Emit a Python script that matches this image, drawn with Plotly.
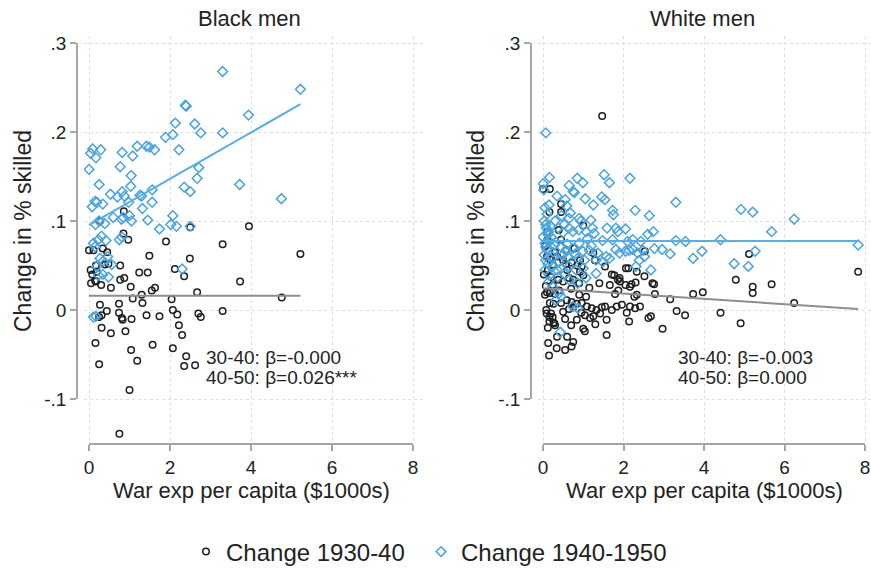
import plotly.graph_objects as go

W, H = 871, 573

# ---------------- data: Black men ----------------
black_30_40_x = [0.86, 0.27, 2.50, 3.95, 0.85, 0.97, 1.90, 3.30, 0.00, 0.11, 0.34, 1.49, 5.22, 2.49,
                 0.17, 0.40, 0.48, 0.77, 0.19, 1.24, 1.45, 2.12, 2.35, 0.15, 0.17, 0.77, 0.87, 3.73,
                 0.54, 1.03, 1.55, 1.63, 1.30, 1.08, 1.32, 2.04, 2.67, 4.76, 0.27, 0.74, 0.44, 0.31,
                 0.25, 0.74, 0.81, 0.83, 1.05, 1.42, 1.74, 2.07, 2.18, 2.70, 2.76, 3.30, 0.31, 0.54,
                 0.90, 2.22, 2.30, 0.16, 1.57, 2.07, 1.04, 2.40, 0.25, 1.19, 2.35, 2.62, 1.00, 0.75,
                 0.05, 0.04, 0.08, 0.30, 0.45]
black_30_40_y = [0.111, 0.100, 0.093, 0.094, 0.086, 0.079, 0.077, 0.074, 0.067, 0.067, 0.069, 0.061,
                 0.063, 0.058, 0.050, 0.051, 0.052, 0.050, 0.043, 0.042, 0.042, 0.046, 0.038, 0.033,
                 0.032, 0.034, 0.036, 0.032, 0.025, 0.026, 0.022, 0.025, 0.017, 0.013, 0.008, 0.012,
                 0.020, 0.014, 0.006, 0.007, -0.001, -0.006, -0.008, -0.003, -0.009, -0.011, -0.010,
                 -0.006, -0.007, 0.000, -0.005, -0.004, -0.008, -0.001, -0.020, -0.026, -0.024,
                 -0.017, -0.028, -0.037, -0.039, -0.043, -0.045, -0.052, -0.061, -0.057, -0.063,
                 -0.062, -0.090, -0.139, 0.030, 0.045, 0.040, 0.028, 0.065]

black_40_50_x = [3.30, 5.22, 2.38, 2.40, 3.94, 2.13, 2.61, 2.76, 2.07, 1.89, 3.30, 0.09, 0.29, 0.17,
                 0.82, 1.19, 1.42, 1.49, 1.62, 1.08, 2.22, 0.00, 0.77, 1.04, 2.71, 2.67, 0.25, 1.03,
                 2.35, 2.50, 3.72, 0.82, 0.87, 0.53, 0.70, 1.26, 1.30, 1.56, 4.75, 0.15, 0.19, 0.34,
                 0.98, 1.56, 1.32, 2.07, 0.60, 0.80, 0.85, 1.00, 1.45, 1.05, 0.25, 0.16, 0.39, 1.74,
                 2.02, 2.16, 2.50, 0.31, 0.23, 0.42, 0.75, 0.81, 0.11, 0.15, 0.27, 0.35, 0.46, 0.56,
                 0.23, 0.34, 0.48, 0.19, 2.30, 0.11, 0.17, 0.04, 0.08]
black_40_50_y = [0.268, 0.248, 0.230, 0.229, 0.219, 0.210, 0.209, 0.199, 0.197, 0.194, 0.199, 0.181,
                 0.180, 0.171, 0.177, 0.184, 0.184, 0.183, 0.180, 0.173, 0.180, 0.158, 0.161, 0.151,
                 0.160, 0.148, 0.141, 0.139, 0.138, 0.133, 0.141, 0.133, 0.128, 0.130, 0.127, 0.129,
                 0.128, 0.135, 0.125, 0.122, 0.121, 0.119, 0.121, 0.121, 0.114, 0.106, 0.104, 0.102,
                 0.104, 0.106, 0.101, 0.100, 0.100, 0.096, 0.097, 0.091, 0.096, 0.094, 0.094, 0.083,
                 0.079, 0.078, 0.079, 0.082, 0.075, 0.071, 0.058, 0.055, 0.060, 0.051, 0.039, 0.040,
                 0.037, 0.049, 0.046, -0.008, -0.007, 0.176, 0.116]

# ---------------- data: White men ----------------
white_30_40_x = [1.47, 0.00, 0.17, 0.45, 0.16, 0.45, 1.00, 0.45, 5.12, 2.53, 0.17, 0.24, 0.50, 0.57,
                 0.71, 0.92, 0.96, 1.25, 1.29, 1.54, 1.71, 1.86, 1.91, 2.12, 2.33, 2.52, 2.05, 2.20,
                 2.30, 2.76, 1.66, 4.79, 5.68, 5.21, 5.21, 3.73, 3.97, 3.16, 2.78, 2.27, 2.33, 1.79,
                 7.83, 6.24, 4.41, 4.91, 3.32, 3.53, 2.97, 2.62, 2.68, 2.14, 1.58, 1.04, 1.00, 0.13,
                 0.34, 0.55, 0.71, 0.75, 0.15, 0.70, 0.50, 0.65, 0.75, 0.09, 0.16, 0.26, 0.30, 0.05,
                 0.17, 0.30, 0.17, 0.26, 0.59, 0.71, 0.84, 0.96, 1.09, 1.21, 1.33, 1.46, 1.54, 1.71,
                 1.83, 1.96, 2.08, 2.16, 2.29, 2.41, 1.87, 2.16, 0.38, 0.50, 0.65, 0.75, 0.92, 1.00,
                 1.04, 1.17, 1.25, 1.42, 0.84, 1.58, 0.39, 0.57, 0.78, 0.12, 0.20, 2.06, 1.77, 1.90,
                 2.72, 0.07, 0.24, 0.90, 1.07, 0.20, 0.24, 0.16, 0.28, 0.05, 0.10, 0.02, 0.10, 0.08,
                 0.30, 0.12, 0.60, 0.10, 0.35, 0.60, 0.85, 0.40, 0.70, 1.15, 0.45, 0.95, 0.55, 1.30,
                 0.35, 0.90, 1.40, 0.10]
white_30_40_y = [0.218, 0.136, 0.136, 0.119, 0.110, 0.110, 0.095, 0.079, 0.063, 0.066, 0.057, 0.051,
                 0.056, 0.052, 0.053, 0.056, 0.049, 0.064, 0.056, 0.049, 0.040, 0.034, 0.032, 0.047,
                 0.043, 0.038, 0.028, 0.029, 0.031, 0.029, 0.028, 0.034, 0.029, 0.026, 0.019, 0.018,
                 0.020, 0.012, 0.018, 0.015, 0.017, 0.018, 0.043, 0.008, -0.003, -0.015, -0.001,
                 -0.006, -0.021, -0.009, -0.007, -0.013, -0.028, -0.024, -0.021, -0.037, -0.043,
                 -0.045, -0.041, -0.036, -0.051, -0.017, -0.002, 0.001, 0.003, -0.004, -0.008,
                 -0.014, -0.017, 0.017, 0.019, 0.018, 0.008, 0.007, 0.011, 0.009, 0.007, 0.008,
                 0.004, 0.002, 0.000, 0.003, 0.004, 0.000, 0.004, 0.006, -0.003, 0.004, 0.002, 0.004,
                 0.022, 0.026, 0.034, 0.032, 0.036, 0.034, 0.043, 0.039, -0.006, -0.009, -0.007,
                 -0.004, -0.011, -0.011, 0.090, 0.067, 0.069, 0.045, 0.037, 0.047, 0.039, 0.036,
                 0.030, 0.027, 0.028, 0.017, 0.015, -0.004, -0.008, -0.013, -0.015, 0.072, 0.088,
                 0.040, 0.020, 0.000, 0.065, -0.020, -0.030, 0.060, 0.060, 0.045, 0.050, 0.022,
                 0.024, 0.025, 0.008, -0.003, -0.010, -0.016, -0.030, 0.030, 0.030, 0.078]

white_40_50_x = [0.07, 0.16, 0.00, 0.85, 0.99, 1.52, 1.65, 2.16, 0.75, 0.78, 1.46, 1.54, 0.55, 0.59,
                 1.73, 1.75, 2.29, 2.64, 3.30, 4.92, 5.21, 6.24, 0.46, 0.90, 0.94, 1.19, 0.68, 0.65,
                 0.07, 0.20, 0.14, 0.53, 0.65, 0.74, 0.89, 1.07, 1.23, 1.27, 1.59, 1.81, 1.86, 2.05,
                 2.60, 2.74, 1.48, 1.73, 2.10, 2.23, 2.43, 3.30, 3.54, 4.41, 0.00, 0.16, 0.07, 0.28,
                 0.45, 0.57, 0.74, 0.99, 1.15, 1.36, 1.57, 1.65, 1.81, 1.90, 2.05, 2.14, 2.23, 2.35,
                 2.48, 2.77, 2.96, 3.16, 3.95, 3.73, 4.75, 0.07, 0.24, 0.40, 0.61, 0.86, 1.03, 1.32,
                 1.48, 2.39, 2.52, 2.31, 2.68, 0.24, 0.45, 0.65, 0.82, 1.32, 0.16, 0.37, 0.65, 0.86,
                 1.07, 0.24, 0.40, 0.45, 0.74, 0.86, 0.43, 0.32, 5.68, 5.27, 5.10, 7.83, 0.02, 0.05,
                 0.10, 0.03, 0.08, 0.12, 0.05, 0.10, 0.03, 0.12, 0.05, 0.15, 0.30, 0.38, 0.50, 0.20,
                 0.33, 0.60, 0.90, 1.10, 0.25, 0.50, 0.80, 1.20, 0.35, 0.55, 1.00, 0.15, 0.35, 0.65,
                 1.25, 1.05]
white_40_50_y = [0.199, 0.149, 0.142, 0.148, 0.143, 0.152, 0.143, 0.148, 0.133, 0.132, 0.127, 0.124,
                 0.124, 0.117, 0.112, 0.107, 0.112, 0.106, 0.121, 0.113, 0.110, 0.102, 0.106, 0.103,
                 0.100, 0.101, 0.109, 0.103, 0.096, 0.094, 0.088, 0.096, 0.092, 0.088, 0.090, 0.088,
                 0.092, 0.086, 0.092, 0.092, 0.088, 0.091, 0.085, 0.088, 0.078, 0.079, 0.077, 0.079,
                 0.077, 0.078, 0.077, 0.079, 0.082, 0.077, 0.071, 0.073, 0.071, 0.067, 0.069, 0.066,
                 0.067, 0.064, 0.060, 0.058, 0.068, 0.064, 0.066, 0.067, 0.068, 0.064, 0.067, 0.069,
                 0.068, 0.063, 0.066, 0.058, 0.052, 0.056, 0.060, 0.054, 0.060, 0.058, 0.056, 0.056,
                 0.054, 0.056, 0.060, 0.049, 0.045, 0.049, 0.047, 0.049, 0.045, 0.041, 0.039, 0.037,
                 0.034, 0.030, 0.036, 0.026, 0.019, 0.015, 0.004, 0.002, -0.025, 0.011, 0.088, 0.066,
                 0.049, 0.073, 0.135, 0.115, 0.108, 0.100, 0.092, 0.085, 0.075, 0.068, 0.062, 0.052,
                 0.045, 0.032, 0.100, 0.092, 0.087, 0.082, 0.076, 0.074, 0.075, 0.080, 0.065, 0.062,
                 0.063, 0.072, 0.045, 0.040, 0.047, 0.118, 0.128, 0.140, 0.118, 0.125]

# Fitted lines: intercept and slope (slope as reported in the panel notes)
fit_black_men = {"30-40": (0.016, -0.000), "40-50": (0.0955, 0.026)}
fit_white_men = {"30-40": (0.0245, -0.003), "40-50": (0.0775, 0.000)}
beta_labels_black = ["30-40: β=-0.000", "40-50: β=0.026***"]
beta_labels_white = ["30-40: β=-0.003", "40-50: β=0.000"]

x_ticks = [0, 2, 4, 6, 8]
y_ticks = [-0.1, 0, 0.1, 0.2, 0.3]
y_ticktext = ["-.1", "0", ".1", ".2", ".3"]

panel_titles = ["Black men", "White men"]
x_title = "War exp per capita ($1000s)"
y_title = "Change in % skilled"
legend_names = ["Change 1930-40", "Change 1940-1950"]

# ---------------- styling ----------------
FONT = "Liberation Sans, Arial, sans-serif"
TXT = "#222222"
AXIS_GREY = "#a6a6a6"
GRID = "#dedede"
DARK = "#1e1e1e"
BLUE = "#4aa3de"
BLUE_LINE = "#55aee6"
GREY_LINE = "#8e8e8e"


def px_x(p):
    return p / W


def px_y(p):
    return 1 - p / H


fig = go.Figure()

# empty traces first so the offset display axes are rendered underneath the data
for xa, ya in (("x3", "y3"), ("x4", "y4")):
    fig.add_trace(go.Scatter(x=[None], y=[None], mode="markers", showlegend=False,
                             xaxis=xa, yaxis=ya, hoverinfo="skip"))


def add_panel(xs0, ys0, xs1, ys1, fits, xa, ya, show_legend):
    fig.add_trace(go.Scatter(
        x=xs0, y=ys0, mode="markers", name=legend_names[0], showlegend=show_legend,
        legend="legend", xaxis=xa, yaxis=ya,
        marker=dict(symbol="circle-open", size=6.5, color=DARK, line=dict(width=1.5, color=DARK))))
    fig.add_trace(go.Scatter(
        x=xs1, y=ys1, mode="markers", name=legend_names[1], showlegend=show_legend,
        legend="legend2", xaxis=xa, yaxis=ya,
        marker=dict(symbol="diamond-open", size=7.5, color=BLUE, line=dict(width=1.5, color=BLUE))))
    for key, xs, col in (("30-40", xs0, GREY_LINE), ("40-50", xs1, BLUE_LINE)):
        a, b = fits[key]
        lo, hi = min(xs), max(xs)
        fig.add_trace(go.Scatter(
            x=[lo, hi], y=[a + b * lo, a + b * hi], mode="lines", showlegend=False,
            xaxis=xa, yaxis=ya, hoverinfo="skip", line=dict(color=col, width=2)))


add_panel(black_30_40_x, black_30_40_y, black_40_50_x, black_40_50_y, fit_black_men, "x", "y", True)
add_panel(white_30_40_x, white_30_40_y, white_40_50_x, white_40_50_y, fit_white_men, "x2", "y2", False)

# pixel geometry of each panel
PX_PER_X = [40.5, 40.25]
X0_PX = [89, 543]
REGION_X = [(84, 423), (538, 871)]
Y_TOP, Y_BOT = 36, 441
YT_PX = {0.3: 43, -0.1: 399}
X_AXIS_PX = 444
Y_AXIS_PX = [77, 531]


def ypx_to_val(p):
    return 0.3 - (p - YT_PX[0.3]) / (YT_PX[-0.1] - YT_PX[0.3]) * 0.4


grid_axis = dict(showgrid=True, griddash="dot", gridcolor=GRID, gridwidth=1, showticklabels=False,
                 ticks="", showline=False, zeroline=False, fixedrange=True)
disp_common = dict(showgrid=False, zeroline=False, showline=True, linecolor=AXIS_GREY, linewidth=1.5,
                   ticks="outside", ticklen=6, tickwidth=1.5, tickcolor=AXIS_GREY,
                   tickfont=dict(family=FONT, size=19, color=TXT), fixedrange=True, anchor="free")

layout = {}
for i in range(2):
    sfx_main = "" if i == 0 else "2"
    sfx_disp = str(i + 3)
    rx0, rx1 = REGION_X[i]
    xr = [(rx0 - X0_PX[i]) / PX_PER_X[i], (rx1 - X0_PX[i]) / PX_PER_X[i]]
    layout["xaxis" + sfx_main] = dict(grid_axis, domain=[px_x(rx0), px_x(rx1)], range=xr,
                                      tickvals=x_ticks, anchor="y" + sfx_main)
    layout["yaxis" + sfx_main] = dict(grid_axis, domain=[px_y(Y_BOT), px_y(Y_TOP)],
                                      range=[ypx_to_val(Y_BOT), ypx_to_val(Y_TOP)],
                                      tickvals=y_ticks, anchor="x" + sfx_main)
    x8_px = X0_PX[i] + 8 * PX_PER_X[i]
    layout["xaxis" + sfx_disp] = dict(disp_common, domain=[px_x(X0_PX[i]), min(1.0, px_x(x8_px))],
                                      range=[0, 8], tickvals=x_ticks, position=px_y(X_AXIS_PX))
    layout["yaxis" + sfx_disp] = dict(disp_common, domain=[px_y(YT_PX[-0.1]), px_y(YT_PX[0.3])],
                                      range=[-0.1, 0.3], tickvals=y_ticks, ticktext=y_ticktext,
                                      position=px_x(Y_AXIS_PX[i]), side="left")

annotations = []
title_centers = [250, 702]
x_title_centers = [251, 704]
y_title_x = [23, 476]
for i in range(2):
    annotations.append(dict(text=panel_titles[i], x=px_x(title_centers[i]), y=px_y(18),
                            xref="paper", yref="paper", showarrow=False, xanchor="center",
                            yanchor="middle", font=dict(family=FONT, size=22, color=TXT)))
    annotations.append(dict(text=x_title, x=px_x(x_title_centers[i]), y=px_y(490),
                            xref="paper", yref="paper", showarrow=False, xanchor="center",
                            yanchor="middle", font=dict(family=FONT, size=22, color=TXT)))
    annotations.append(dict(text=y_title, x=px_x(y_title_x[i]), y=px_y(231), textangle=-90,
                            xref="paper", yref="paper", showarrow=False, xanchor="center",
                            yanchor="middle", font=dict(family=FONT, size=23, color=TXT)))

for labels, x_left in ((beta_labels_black, 204), (beta_labels_white, 676)):
    for j, lab in enumerate(labels):
        annotations.append(dict(text=lab, x=px_x(x_left), y=px_y(357 + 20 * j),
                                xref="paper", yref="paper", showarrow=False, xanchor="left",
                                yanchor="middle", font=dict(family=FONT, size=19, color=TXT)))

legend_common = dict(orientation="h", xanchor="left", y=px_y(552), yanchor="middle",
                     font=dict(family=FONT, size=24, color=TXT), itemsizing="trace",
                     bgcolor="rgba(0,0,0,0)")

fig.update_layout(
    width=W, height=H,
    margin=dict(l=0, r=0, t=0, b=0, autoexpand=False),
    paper_bgcolor="white", plot_bgcolor="rgba(0,0,0,0)",
    font=dict(family=FONT, color=TXT),
    showlegend=True,
    legend=dict(legend_common, x=px_x(206 - 20)),
    legend2=dict(legend_common, x=px_x(441 - 20)),
    annotations=annotations,
    **layout,
)

fig.write_html("out.html")
